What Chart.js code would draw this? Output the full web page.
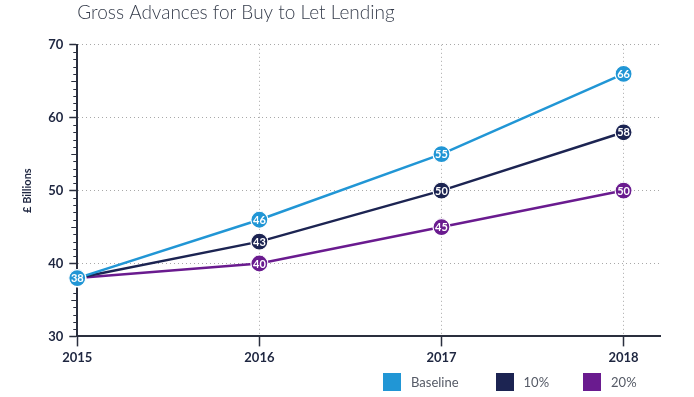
<!DOCTYPE html>
<html>
<head>
<meta charset="utf-8">
<script src="https://cdn.jsdelivr.net/npm/chart.js@4/dist/chart.umd.min.js"></script>
<style>
  html, body { margin: 0; padding: 0; background: #ffffff; }
  #wrap { position: relative; width: 694px; height: 397px; }
  #legend {
    position: absolute; left: 383px; top: 373px;
    display: flex; align-items: center;
    font-family: Lato, sans-serif; font-size: 13px; color: #555a66;
  }
  .item { display: flex; align-items: center; margin-right: 34px; }
  .item:first-child { margin-right: 37px; }
  .box { width: 18px; height: 18px; margin-right: 10px; }
</style>
</head>
<body>
<div id="wrap">
  <canvas id="c" width="694" height="397"></canvas>
  <div id="legend"></div>
</div>
<script>
const years = [2015, 2016, 2017, 2018];
const baseline = [38, 46, 55, 66];
const tenPct = [38, 43, 50, 58];
const twentyPct = [38, 40, 45, 50];
const seriesNames = ['Baseline', '10%', '20%'];
const seriesColors = ['#2196d5', '#1c2452', '#6a1b8f'];
const titleText = 'Gross Advances for Buy to Let Lending';
const yTitle = '£ Billions';

const axisColor = '#2a2f3e';
const textColor = '#1e2640';

function pts(vals) { return years.map((y, i) => ({ x: y, y: vals[i] })); }

function ds(name, vals, color) {
  return {
    label: name,
    data: pts(vals),
    borderColor: color,
    backgroundColor: color,
    borderWidth: 2.5,
    pointRadius: 8.5,
    pointBackgroundColor: color,
    pointBorderColor: '#ffffff',
    pointBorderWidth: 1.2,
    tension: 0,
    clip: false
  };
}

// HTML legend built from the series arrays
const legendEl = document.getElementById('legend');
seriesNames.forEach((name, i) => {
  const item = document.createElement('div');
  item.className = 'item';
  const box = document.createElement('span');
  box.className = 'box';
  box.style.background = seriesColors[i];
  const label = document.createElement('span');
  label.textContent = name;
  item.appendChild(box);
  item.appendChild(label);
  legendEl.appendChild(item);
});

const pointLabels = {
  id: 'pointLabels',
  afterDatasetDraw(chart, args) {
    const ctx = chart.ctx;
    const dataset = chart.data.datasets[args.index];
    ctx.save();
    ctx.fillStyle = '#ffffff';
    ctx.font = 'bold 11px Lato, sans-serif';
    ctx.textAlign = 'center';
    ctx.textBaseline = 'middle';
    args.meta.data.forEach((el, i) => {
      ctx.fillText(String(dataset.data[i].y), el.x, el.y + 0.5);
    });
    ctx.restore();
  }
};

const minorTicks = {
  id: 'minorTicks',
  beforeDatasetsDraw(chart) {
    const y = chart.scales.y;
    const ctx = chart.ctx;
    const x0 = chart.chartArea.left;
    ctx.save();
    ctx.strokeStyle = axisColor;
    ctx.lineWidth = 1;
    for (let v = y.min + 1; v < y.max; v++) {
      if (v % 10 === 0) continue;
      const py = Math.round(y.getPixelForValue(v)) + 0.5;
      const len = (v % 5 === 0) ? 6 : 4;
      ctx.beginPath();
      ctx.moveTo(x0 - len, py);
      ctx.lineTo(x0, py);
      ctx.stroke();
    }
    ctx.restore();
  }
};

new Chart(document.getElementById('c'), {
  type: 'line',
  data: {
    datasets: [
      ds(seriesNames[0], baseline, seriesColors[0]),
      ds(seriesNames[1], tenPct, seriesColors[1]),
      ds(seriesNames[2], twentyPct, seriesColors[2])
    ]
  },
  options: {
    responsive: false,
    animation: false,
    layout: { padding: { left: 21, right: 34, top: 0, bottom: 27 } },
    scales: {
      x: {
        type: 'linear',
        min: 2015,
        max: 2018.2,
        border: { display: true, color: axisColor, width: 2, dash: [1, 3] },
        grid: {
          color: '#a8a8a8',
          lineWidth: 1,
          tickLength: 10,
          tickColor: axisColor,
          tickBorderDash: [],
          tickWidth: 1.5
        },
        ticks: {
          stepSize: 1,
          includeBounds: false,
          color: textColor,
          font: { family: 'Lato, sans-serif', size: 13, weight: 'bold' },
          padding: 4,
          callback: v => String(v)
        }
      },
      y: {
        min: 30,
        max: 70,
        border: { display: true, color: axisColor, width: 2, dash: [1, 3] },
        grid: {
          color: '#a8a8a8',
          lineWidth: 1,
          tickLength: 8,
          tickColor: axisColor,
          tickBorderDash: [],
          tickWidth: 1.5
        },
        ticks: {
          stepSize: 10,
          color: textColor,
          font: { family: 'Lato, sans-serif', size: 13, weight: 'bold' },
          padding: 6
        },
        title: {
          display: true,
          text: yTitle,
          color: textColor,
          font: { family: 'Lato, sans-serif', size: 11, weight: 'bold' },
          padding: { top: 0, bottom: 8 }
        }
      }
    },
    plugins: {
      title: {
        display: true,
        text: titleText,
        align: 'start',
        fullSize: false,
        color: '#353c4b',
        font: { family: 'Lato, sans-serif', size: 19, weight: 300 },
        padding: { top: 1, bottom: 21 }
      },
      legend: { display: false },
      tooltip: { enabled: false }
    }
  },
  plugins: [pointLabels, minorTicks]
});
</script>
</body>
</html>
